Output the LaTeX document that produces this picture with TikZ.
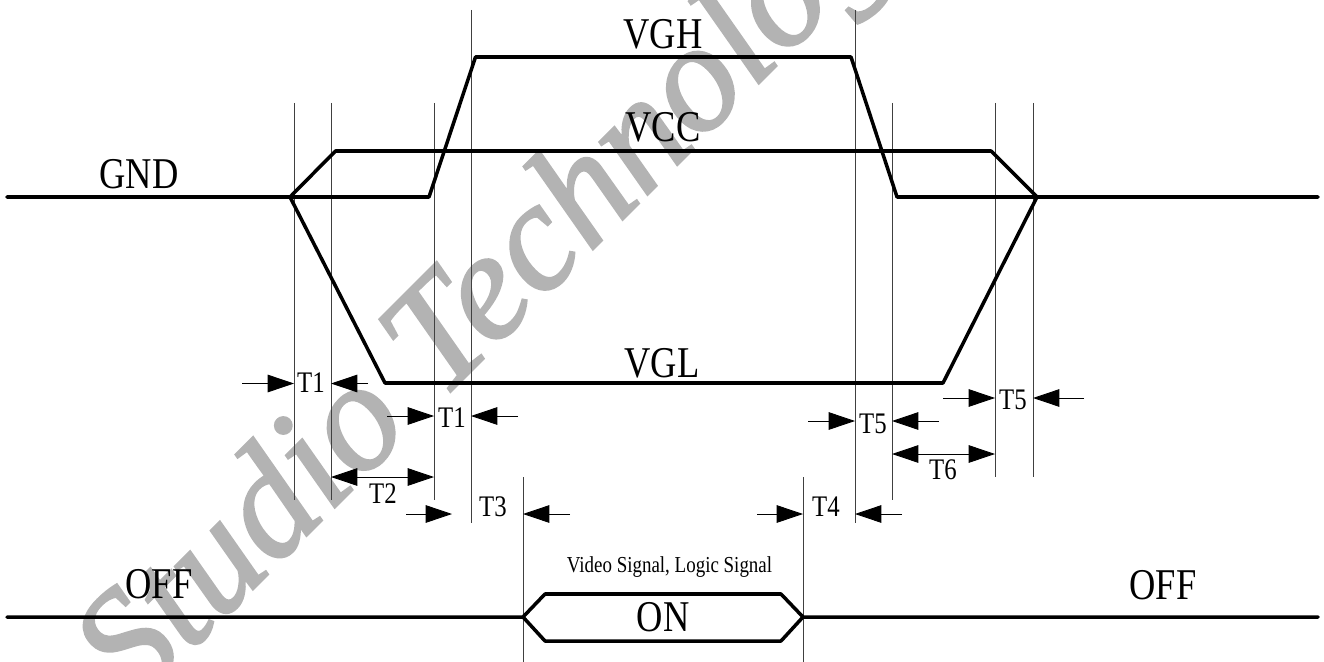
\documentclass[tikz,border=0pt]{standalone}
\usepackage{fontspec}
\usetikzlibrary{arrows.meta}
\setmainfont{Liberation Serif}
\newfontfamily\narrowfont[FakeStretch=0.83]{Liberation Serif}
\newfontfamily\markfont[UprightFont={* Italic},FakeBold=1.6]{Liberation Serif}
\definecolor{markgray}{HTML}{B3B3B3}
\tikzset{
  signal/.style={line width=2pt,line join=round,line cap=round},
  guide/.style={line width=.55pt,black!75},
  dim/.style={line width=.5pt},
  biglabel/.style={font=\narrowfont\fontsize{25}{25}\selectfont,inner sep=0pt},
  tlabel/.style={font=\narrowfont\fontsize{17}{17}\selectfont,inner sep=0pt},
}
\begin{document}
\begin{tikzpicture}[x=.02cm,y=-.02cm,>={Triangle[length=15pt,width=10pt]}]
\useasboundingbox (0,0) rectangle (1324,662);
\clip (0,0) rectangle (1324,662);
\node[rotate=45,anchor=base west,text=markgray,inner sep=0pt,font=\markfont\fontsize{88}{88}\selectfont] (mark) at (134,708) {Studio Technology};
\foreach \gname/\gx/\gtop/\gbot in {g1/294/103/500,g2/331/103/500,g3/434/103/500,g4/471/10/523,g5/523/477/662,g6/803/477/662,g7/855/10/523,g8/892/103/500,g9/995/103/477,g10/1033/103/477} {
  \coordinate (\gname) at (\gx,\gtop);
  \draw[guide] (\gx,\gtop) -- (\gx,\gbot);
}
\draw[signal] (7,197) -- (429,197) -- (475.5,57) -- (851,57) -- (897,197) -- (1318,197);
\draw[signal] (290,197) -- (335.5,151) -- (991,151) -- (1037,197);
\draw[signal] (290,197) -- (385,383) -- (943,383) -- (1037,197);
\draw[signal] (7,617) -- (523,617) -- (545,594) -- (781,594) -- (803,617) -- (1318,617);
\draw[signal] (523,617) -- (545,641) -- (781,641) -- (803,617);
\foreach \xfrom/\gto/\yrow in {242/g1/383.5,368/g2/383.5,387/g3/416,518/g4/416,570/g5/514,757/g6/514,902/g7/514,808/g7/421,939/g8/421,943/g9/398,1084/g10/398} {
  \draw[dim,->] (\xfrom,\yrow) -- (\gto |- 0,\yrow);
}
\draw[dim,->] (406,514) -- (452,514);
\draw[dim,<->] (g2 |- 0,477) -- (g3 |- 0,477);
\draw[dim,<->] (g8 |- 0,454) -- (g9 |- 0,454);
\node[biglabel] (gnd) at (139,174) {GND};
\node[biglabel] (vgh) at (663,34) {VGH};
\node[biglabel] (vcc) at (663,127) {VCC};
\node[biglabel] (vgl) at (662,363) {VGL};
\node[biglabel] (offa) at (159,584) {OFF};
\node[biglabel] (offb) at (1163,585) {OFF};
\node[biglabel] (on) at (663,617) {ON};
\node[font=\narrowfont\fontsize{13}{13}\selectfont,inner sep=0pt] (sig) at (669.5,567) {Video Signal, Logic Signal};
\node[tlabel] (ta) at (311,383) {T1};
\node[tlabel] (tb) at (452,418) {T1};
\node[tlabel] (tc) at (383,494) {T2};
\node[tlabel] (td) at (493,507) {T3};
\node[tlabel] (te) at (826,507) {T4};
\node[tlabel] (tf) at (873,424) {T5};
\node[tlabel] (tg) at (1013,400) {T5};
\node[tlabel] (th) at (943,470) {T6};
\end{tikzpicture}
\end{document}
